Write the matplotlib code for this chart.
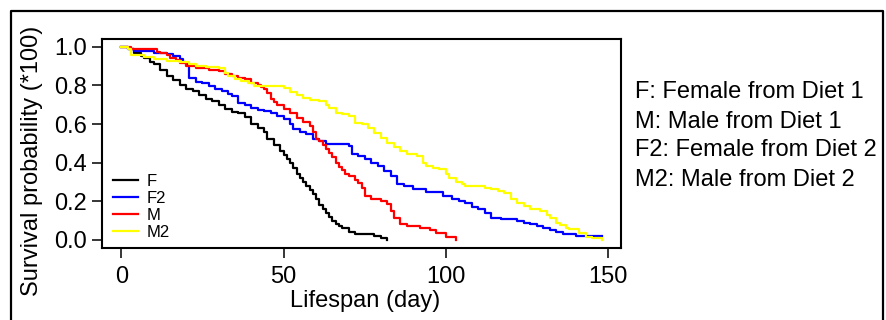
import numpy as np
import matplotlib
matplotlib.use('Agg')
import matplotlib.pyplot as plt
from matplotlib.lines import Line2D

plt.rcParams['font.family'] = ['Liberation Sans', 'DejaVu Sans']

# Kaplan-Meier curves (day, survival)
f_days = [0, 2, 4, 6, 7, 9, 10, 12, 14, 16, 18, 20, 22, 24, 26, 28, 30, 32, 34, 36,
          38, 40, 42, 44, 45, 47, 49, 50, 51, 52, 53, 54, 55, 56, 57, 58, 59, 60, 61, 62,
          63, 64, 65, 66, 67, 68, 70, 72, 75, 78, 80, 82]
f_surv = [1.0, 0.99, 0.97, 0.95, 0.94, 0.92, 0.91, 0.88, 0.85, 0.83, 0.80, 0.78, 0.77, 0.75,
          0.73, 0.72, 0.70, 0.68, 0.66, 0.655, 0.635, 0.60, 0.58, 0.56, 0.52, 0.49, 0.46,
          0.44, 0.42, 0.40, 0.37, 0.34, 0.32, 0.30, 0.28, 0.26, 0.24, 0.21, 0.18, 0.16,
          0.14, 0.12, 0.10, 0.085, 0.07, 0.06, 0.04, 0.03, 0.03, 0.02, 0.01, 0.0]

f2_days = [0, 2, 4, 10, 14, 16, 18, 19, 20, 21, 23, 25, 27, 29, 31, 33, 34, 36, 38, 40,
           42, 44, 46, 48, 50, 52, 53, 55, 57, 59, 61, 63, 70, 71, 73, 75, 77, 79, 81, 83,
           85, 87, 90, 94, 99, 102, 104, 106, 108, 110, 112, 114, 117, 120, 122, 124, 126,
           128, 130, 132, 134, 136, 140, 148]
f2_surv = [1.0, 0.99, 0.978, 0.97, 0.961, 0.95, 0.935, 0.92, 0.909, 0.84, 0.82, 0.81, 0.797,
           0.78, 0.771, 0.755, 0.745, 0.71, 0.70, 0.684, 0.675, 0.667, 0.655, 0.641, 0.624,
           0.60, 0.575, 0.56, 0.547, 0.521, 0.51, 0.495, 0.486, 0.445, 0.435, 0.421, 0.40,
           0.383, 0.357, 0.33, 0.29, 0.279, 0.262, 0.25, 0.228, 0.21, 0.202, 0.19, 0.17,
           0.159, 0.14, 0.115, 0.110, 0.110, 0.10, 0.09, 0.081, 0.07, 0.06, 0.052, 0.04,
           0.03, 0.021, 0.021]

m_days = [0, 3, 9, 11, 12, 14, 15, 17, 18, 20, 23, 27, 30, 32, 34, 36, 38, 40, 42, 43,
          44, 45, 46, 47, 48, 50, 52, 54, 56, 58, 59, 60, 61, 62, 63, 64, 65, 66, 67, 68,
          69, 70, 72, 73, 74, 75, 77, 80, 82, 83, 84, 86, 88, 92, 95, 97, 100, 103]
m_surv = [1.0, 0.99, 0.987, 0.975, 0.969, 0.955, 0.943, 0.93, 0.917, 0.90, 0.891, 0.88,
          0.874, 0.86, 0.848, 0.84, 0.831, 0.814, 0.80, 0.79, 0.78, 0.76, 0.728, 0.715,
          0.70, 0.676, 0.655, 0.633, 0.61, 0.590, 0.56, 0.521, 0.51, 0.49, 0.469, 0.45,
          0.43, 0.40, 0.38, 0.36, 0.34, 0.331, 0.31, 0.296, 0.27, 0.228, 0.211, 0.20,
          0.185, 0.15, 0.115, 0.081, 0.07, 0.064, 0.05, 0.038, 0.017, 0.0]

m2_days = [0, 2, 3, 7, 10, 14, 18, 21, 23, 26, 30, 32, 33, 35, 37, 39, 41, 43, 50, 52,
           54, 56, 58, 61, 63, 64, 66, 68, 70, 72, 74, 76, 78, 80, 82, 84, 86, 88, 91, 93,
           94, 96, 98, 100, 101, 103, 105, 106, 112, 114, 116, 118, 120, 122, 124, 126,
           129, 131, 132, 134, 135, 137, 138, 141, 143, 145, 148]
m2_surv = [1.0, 0.987, 0.955, 0.947, 0.935, 0.928, 0.921, 0.91, 0.900, 0.895, 0.891, 0.865,
           0.848, 0.835, 0.823, 0.81, 0.797, 0.797, 0.788, 0.766, 0.75, 0.736, 0.725,
           0.719, 0.70, 0.684, 0.659, 0.65, 0.641, 0.607, 0.599, 0.58, 0.555, 0.53, 0.503,
           0.48, 0.460, 0.445, 0.435, 0.40, 0.383, 0.375, 0.366, 0.34, 0.322, 0.30, 0.29,
           0.279, 0.271, 0.262, 0.255, 0.245, 0.211, 0.19, 0.176, 0.16, 0.150, 0.13,
           0.115, 0.09, 0.076, 0.06, 0.055, 0.038, 0.017, 0.01, 0.0]

series_names = ['F', 'F2', 'M', 'M2']
series_colors = ['black', '#0000ff', '#ff0000', '#ffff00']
notes = ['F: Female from Diet 1', 'M: Male from Diet 1',
         'F2: Female from Diet 2', 'M2: Male from Diet 2']

W, H = 886, 320
fig = plt.figure(figsize=(W / 100, H / 100), dpi=100)
ax = fig.add_axes([102 / W, 1 - 247.7 / H, (621 - 102) / W, (247.7 - 39) / H])

curves = [(f_days, f_surv), (f2_days, f2_surv), (m_days, m_surv), (m2_days, m2_surv)]
handles = []
for (d, s), name, col in zip(curves, series_names, series_colors):
    ln, = ax.plot(d, s, drawstyle='steps-post', color=col, lw=1.6, label=name)
    handles.append(ln)

ax.set_xlim(-5.92, 153.92)
ax.set_ylim(-0.04, 1.04)
ax.set_xticks([0, 50, 100, 150])
ax.set_yticks(np.arange(0, 1.01, 0.2))
ax.set_yticklabels(['%.1f' % v for v in np.arange(0, 1.01, 0.2)])
ax.tick_params(length=7.2, width=1.1, labelsize=17, color='black')
ax.tick_params(axis='x', pad=6)
ax.tick_params(axis='y', pad=3.5)
for sp in ax.spines.values():
    sp.set_linewidth(1.5)

leg = ax.legend(handles=handles, loc='lower left', frameon=False, fontsize=12,
                bbox_to_anchor=(113 / W, 1 - 240 / H), bbox_transform=fig.transFigure,
                borderpad=0, borderaxespad=0, handlelength=1.5, handletextpad=0.5,
                labelspacing=0.12)

fig.text(365 / W, 1 - 307 / H, 'Lifespan (day)', fontsize=17, ha='center', va='baseline')
fig.text(32 / W, 1 - 161 / H, 'Survival probability (*100)', fontsize=17,
         rotation=90, ha='center', va='center')

for i, t in enumerate(notes):
    fig.text(635 / W, 1 - (98.5 + 29 * i) / H, t, fontsize=17, ha='left', va='baseline')

# outer frame of the figure
fig.add_artist(Line2D([10.5 / W, 10.5 / W, 883 / W, 883 / W],
                      [-0.05, 1 - 10.5 / H, 1 - 10.5 / H, -0.05],
                      transform=fig.transFigure, color='black', lw=1.6, clip_on=False))

fig.savefig('out.png', dpi=100)
